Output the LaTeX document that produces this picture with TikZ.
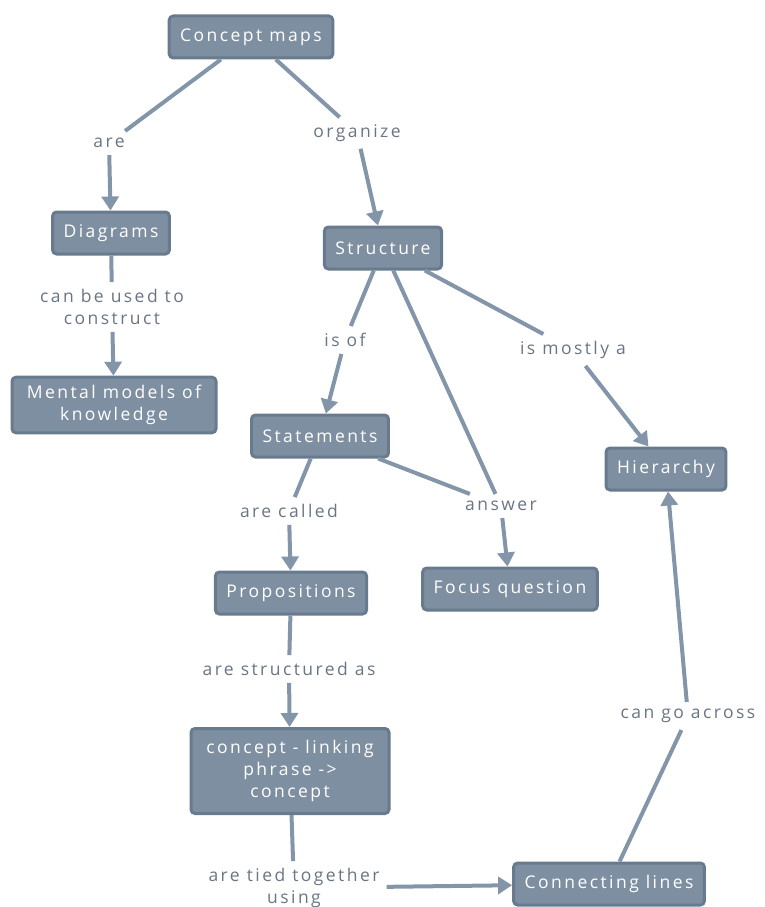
\documentclass[tikz,border=0pt]{standalone}
\usepackage{fontspec}
\setmainfont[LetterSpace=14]{Open Sans}
\usetikzlibrary{arrows.meta}
\definecolor{boxfill}{HTML}{7F8FA2}
\definecolor{boxedge}{HTML}{687A8E}
\definecolor{linkcol}{HTML}{8395A9}
\definecolor{labcol}{HTML}{6A7584}
\begin{document}
\begin{tikzpicture}[x=1pt,y=-1pt,
  box/.style={draw=boxedge,line width=3pt,fill=boxfill,rounded corners=4pt,
    text=white,align=center,inner xsep=11pt,inner ysep=8pt,minimum height=42pt,
    font=\fontsize{17.5}{22}\selectfont},
  lab/.style={text=labcol,align=center,inner sep=7pt,
    font=\fontsize{17.5}{22}\selectfont},
  link/.style={draw=linkcol,line width=4pt},
  tie/.style={link,-{Triangle[width=17pt,length=14pt]}}]
\useasboundingbox (0,0) rectangle (764,907);
% concepts
\node[box] (cmaps) at (251,37) {Concept maps};
\node[box] (diag) at (111,233) {Diagrams};
\node[box,minimum width=204pt] (mental) at (114,405) {Mental models of\\knowledge};
\node[box] (struct) at (383,248) {Structure};
\node[box] (stmt) at (320,436) {Statements};
\node[box] (hier) at (666,469) {Hierarchy};
\node[box] (props) at (291,593) {Propositions};
\node[box] (focus) at (510,589) {Focus question};
\node[box,minimum width=198pt,minimum height=85pt] (clc) at (290,771) {concept - linking\\phrase ->\\concept};
\node[box] (clines) at (609,884) {Connecting lines};
% linking phrases
\node[lab] (are) at (109,143) {are};
\node[lab] (org) at (357,133) {organize};
\node[lab] (used) at (112,307) {can be used to\\construct};
\node[lab] (isof) at (345,340) {is of};
\node[lab] (mostly) at (573,350) {is mostly a};
\node[lab] (called) at (289,511) {are called};
\node[lab] (answer) at (501,506) {answer};
\node[lab] (structas) at (289,669) {are structured as};
\node[lab] (across) at (688,716) {can go across};
\node[lab] (tied) at (294,888) {are tied together\\using};
% connectors
\draw[link] (cmaps) -- (are);
\draw[tie] (are) -- (diag);
\draw[link] (cmaps) -- (org);
\draw[tie] (org) -- (struct);
\draw[link] (diag) -- (used);
\draw[tie] (used) -- (mental);
\draw[link] (struct) -- (isof);
\draw[tie] (isof) -- (stmt);
\draw[link] (struct) -- (mostly);
\draw[tie] (mostly) -- (hier);
\draw[link] (struct) -- (answer);
\draw[link] (stmt) -- (answer);
\draw[tie] (answer) -- (focus);
\draw[link] (stmt) -- (called);
\draw[tie] (called) -- (props);
\draw[link] (props) -- (structas);
\draw[tie] (structas) -- (clc);
\draw[link] (clc) -- (tied);
\draw[tie] (tied) -- (clines);
\draw[link] (clines) -- (across);
\draw[tie] (across) -- (hier);
\end{tikzpicture}
\end{document}
